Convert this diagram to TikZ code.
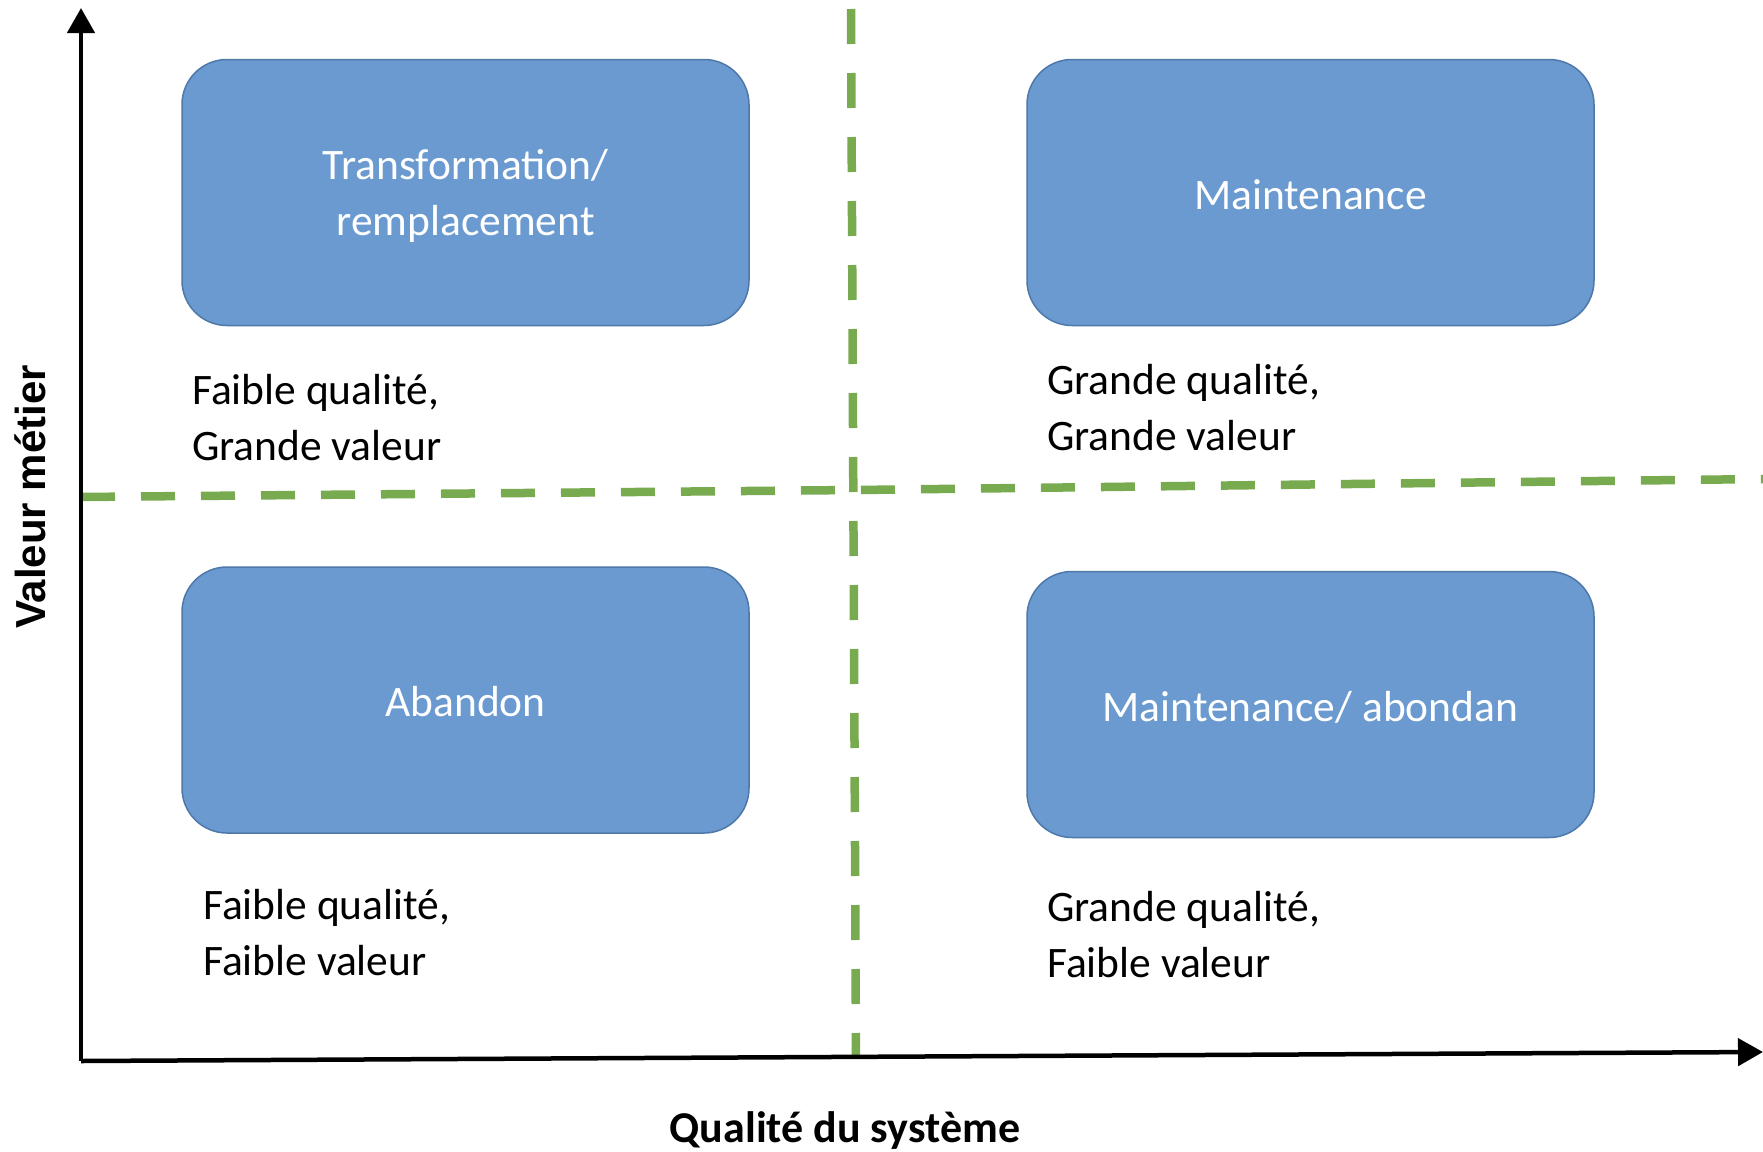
\documentclass[tikz,border=0pt]{standalone}
\usepackage{fontspec}
\setmainfont{Carlito}
\newfontfamily\axisfont{Liberation Sans}
\usetikzlibrary{arrows.meta}
\definecolor{boxfill}{RGB}{106,154,207}
\definecolor{boxline}{RGB}{78,120,170}
\definecolor{dashgreen}{RGB}{120,170,80}
\tikzset{
  quad/.style={draw=boxline, line width=1.5pt, fill=boxfill, rounded corners=45pt,
    minimum width=567pt, minimum height=266pt, inner sep=0pt, text=white,
    align=center, font=\fontsize{43.5}{56}\selectfont},
  desc/.style={anchor=base west, inner sep=0pt, align=left, text=black,
    font=\fontsize{43.5}{56}\selectfont},
  axisline/.style={line width=4.5pt, -{Triangle[length=25pt, width=27pt]}},
  divider/.style={draw=dashgreen, line width=8.5pt}
}
\begin{document}
\begin{tikzpicture}[x=1pt, y=-1pt]
\useasboundingbox[fill=white] (0,0) rectangle (1763,1151);
% coordinates
\coordinate (O) at (81,1061);
\coordinate (ytop) at (81,8);
\coordinate (xend) at (1763,1052);
\coordinate (vtop) at (851,9);
\coordinate (vbot) at (856,1058);
\coordinate (hl) at (81,497);
\coordinate (hm) at (856,490);
\coordinate (hr) at (1763,479);
% dashed dividers
\draw[divider, dash pattern=on 35pt off 29pt] (vtop) -- (vbot);
\draw[divider, dash pattern=on 34pt off 26pt] (hl) -- (hm) -- (hr);
% axes
\draw[axisline] (O) -- (ytop);
\draw[axisline] (O) -- (xend);
% boxes
\node[quad] (tl) at (465.5,192.5) {\raisebox{-4pt}[\height][\depth]{\begin{tabular}{@{}c@{}}Transformation/\\remplacement\end{tabular}}};
\node[quad] (tr) at (1310.5,192.5) {\raisebox{-2pt}[\height][\depth]{Maintenance}};
\node[quad] (bl) at (465.5,700) {\raisebox{-2pt}[\height][\depth]{Abandon}};
\node[quad] (br) at (1310.5,704.5) {\raisebox{-3pt}[\height][\depth]{Maintenance/ abondan}};
% descriptions (base anchor = last line baseline)
\node[desc] (tld) at (192,460) {Faible qualité,\\Grande valeur};
\node[desc] (trd) at (1047,450) {Grande qualité,\\Grande valeur};
\node[desc] (bld) at (203,975) {Faible qualité,\\Faible valeur};
\node[desc] (brd) at (1047,977) {Grande qualité,\\Faible valeur};
% axis labels
\node[anchor=base, inner sep=0pt, font=\fontsize{44}{50}\selectfont\bfseries] (xlab) at (845,1142) {Qualité du système};
\node[anchor=base, inner sep=0pt, rotate=90, font=\axisfont\fontsize{42}{48}\selectfont\bfseries] (ylab) at (45,497) {Valeur métier};
\end{tikzpicture}
\end{document}
